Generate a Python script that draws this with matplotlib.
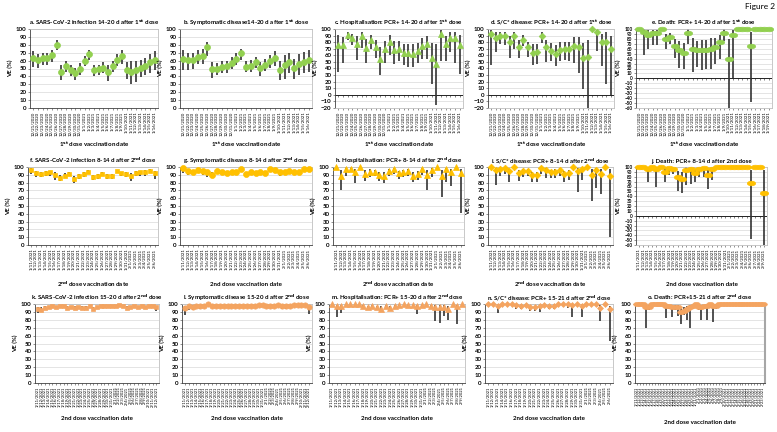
import matplotlib
matplotlib.use('Agg')
import matplotlib.pyplot as plt
import numpy as np
import pandas as pd
from matplotlib.path import Path
from matplotlib.transforms import Affine2D

plt.rcParams['font.family'] = ['Lato', 'DejaVu Sans']
plt.rcParams['mathtext.fontset'] = 'dejavusans'

W, H = 777, 432
fig = plt.figure(figsize=(W / 100, H / 100), dpi=100)

GREEN = '#92D050'
YELLOW = '#FFC000'
ORANGE = '#F4A460'

# ---------------- data ----------------
# Row 1 (after 1st dose)
ve_a = [63, 61, 63, 63, 67, 80, 46, 53, 48, 44, 50, 60, 68, 48, 49, 51, 45, 53, 61, 66, 48, 46, 48, 51, 53, 58, 61]
lo_a = [52, 51, 55, 55, 58, 73, 36, 45, 40, 36, 42, 53, 61, 41, 42, 44, 34, 46, 53, 56, 37, 30, 33, 39, 42, 44, 48]
hi_a = [72, 68, 70, 70, 74, 86, 54, 60, 54, 51, 57, 66, 73, 55, 55, 58, 54, 60, 68, 73, 58, 59, 59, 61, 63, 68, 72]

ve_b = [62, 61, 61, 65, 66, 77, 49, 50, 52, 53, 57, 62, 69, 52, 53, 58, 51, 55, 59, 63, 48, 54, 58, 51, 56, 58, 61]
lo_b = [48, 48, 50, 56, 56, 66, 38, 42, 44, 44, 50, 55, 61, 45, 46, 51, 41, 47, 51, 53, 35, 37, 44, 37, 42, 44, 46]
hi_b = [73, 70, 69, 73, 75, 84, 58, 57, 59, 60, 64, 70, 75, 59, 61, 65, 58, 62, 67, 72, 60, 67, 70, 62, 68, 71, 73]

ve_c = [76, 75, 91, 87, 77, 89, 71, 83, 72, 55, 69, 81, 68, 70, 63, 63, 62, 66, 74, 77, 56, 47, 93, 77, 87, 87, 75]
lo_c = [35, 49, 84, 75, 53, 71, 49, 70, 56, 30, 48, 61, 47, 52, 45, 43, 42, 49, 54, 54, 16, -16, 52, 51, 65, 49, 31]
hi_c = [91, 88, 95, 93, 89, 95, 85, 91, 83, 73, 82, 91, 82, 82, 77, 77, 77, 79, 87, 90, 78, 77, 99, 90, 95, 96, 91]

ve_d = [92, 87, 90, 90, 80, 89, 72, 84, 72, 64, 65, 90, 72, 67, 62, 68, 70, 69, 74, 73, 56, 57, 100, 96, 80, 80, 69]
lo_d = [45, 65, 77, 76, 56, 70, 56, 74, 58, 45, 47, 79, 50, 52, 44, 51, 53, 51, 48, 33, 9, -20, 100, 67, 44, 17, 0]
hi_d = [99, 95, 96, 96, 90, 96, 83, 91, 81, 77, 77, 96, 84, 78, 75, 80, 81, 80, 88, 88, 79, 84, 100, 99, 93, 95, 90]

ve_e = [100, 93, 88, 91, 91, 100, 80, 83, 65, 58, 52, 91, 60, 57, 57, 58, 60, 63, 73, 91, 39, 87, 100, 100, 100, 65, 100, 100, 100, 100]
lo_e = [100, 48, 60, 68, 68, 100, 60, 70, 42, 21, 19, 70, 13, 23, 17, 20, 20, 30, 40, 75, -60, 0, 100, 100, 100, -48, 100, 100, 100, 100]
hi_e = [100, 100, 97, 97, 98, 100, 90, 91, 80, 75, 71, 100, 82, 75, 77, 78, 81, 82, 88, 100, 80, 98, 100, 100, 100, 93, 100, 100, 100, 100]

# Row 2 (8-14 d after 2nd dose)
ve_f = [96, 92, 91, 92, 93, 90, 86, 89, 91, 85, 88, 91, 94, 87, 88, 91, 88, 89, 95, 92, 91, 88, 92, 93, 93, 95, 92]
lo_f = [91, 87, 87, 89, 89, 83, 82, 86, 88, 80, 84, 87, 91, 83, 84, 88, 84, 85, 92, 88, 87, 82, 89, 89, 89, 92, 85]
hi_f = [99, 95, 94, 95, 95, 93, 90, 92, 93, 89, 91, 93, 96, 90, 91, 93, 91, 91, 96, 94, 94, 92, 95, 95, 96, 97, 95]

ve_g = [99, 95, 94, 96, 95, 94, 90, 95, 94, 92, 94, 93, 97, 91, 94, 92, 93, 92, 97, 96, 93, 94, 95, 94, 94, 97, 97]
lo_g = [92, 90, 91, 93, 90, 87, 86, 93, 91, 89, 91, 90, 95, 88, 91, 89, 90, 89, 95, 93, 89, 90, 93, 91, 91, 94, 93]
hi_g = [100, 97, 96, 98, 97, 96, 93, 97, 96, 94, 96, 95, 98, 93, 96, 94, 95, 94, 98, 98, 95, 96, 97, 96, 96, 98, 98]

ve_h = [100, 89, 98, 98, 93, 100, 91, 94, 93, 90, 88, 95, 97, 92, 93, 95, 89, 91, 97, 90, 96, 100, 88, 97, 94, 100, 92]
lo_h = [100, 70, 88, 93, 80, 100, 82, 87, 88, 82, 79, 88, 91, 85, 87, 88, 81, 83, 90, 70, 87, 100, 62, 81, 76, 100, 41]
hi_h = [100, 96, 100, 100, 97, 100, 96, 97, 96, 94, 93, 98, 99, 95, 96, 98, 93, 95, 99, 96, 99, 100, 96, 99, 98, 100, 98]

ve_i = [100, 96, 98, 99, 95, 100, 92, 95, 95, 90, 90, 99, 96, 93, 94, 96, 91, 92, 100, 95, 97, 100, 90, 96, 91, 100, 88]
lo_i = [100, 77, 88, 91, 81, 100, 82, 87, 89, 81, 81, 91, 86, 86, 86, 89, 81, 83, 100, 68, 83, 100, 57, 73, 65, 100, 10]
hi_i = [100, 99, 100, 100, 98, 100, 96, 98, 98, 94, 94, 100, 99, 96, 97, 99, 95, 96, 100, 99, 99, 100, 97, 99, 98, 100, 97]

ve_j = [100, 100, 96, 100, 95, 100, 89, 97, 96, 80, 76, 93, 95, 87, 96, 97, 84, 95, 100, 100, 100, 100, 100, 100, 100, 100, 68, 100, 100, 46]
lo_j = [100, 100, 70, 100, 60, 100, 70, 83, 85, 50, 47, 63, 65, 70, 80, 80, 55, 73, 100, 100, 100, 100, 100, 100, 100, 100, -47, 100, 100, -60]
hi_j = [100, 100, 100, 100, 100, 100, 97, 100, 100, 92, 90, 99, 100, 95, 100, 100, 93, 99, 100, 100, 100, 100, 100, 100, 100, 100, 93, 100, 100, 93]

# Row 3 (15-21 d after 2nd dose)
ve_k = [94, 93, 95, 96, 97, 96, 98, 97, 95, 96, 95, 96, 95, 95, 97, 94, 96, 98, 97, 97, 98, 98, 99, 97, 95, 96, 97, 96, 97, 96, 98, 97, 96]
lo_k = [88, 90, 93, 94, 95, 94, 96, 95, 93, 94, 93, 94, 93, 93, 95, 92, 94, 96, 95, 95, 96, 96, 97, 95, 92, 94, 95, 94, 95, 94, 96, 95, 91]
hi_k = [96, 96, 97, 98, 98, 98, 99, 98, 97, 98, 97, 97, 97, 97, 98, 96, 98, 99, 98, 98, 99, 99, 100, 98, 97, 98, 98, 98, 98, 98, 99, 98, 98]

ve_l = [95, 97, 96, 97, 97, 98, 100, 98, 98, 98, 98, 98, 98, 98, 98, 98, 98, 97, 98, 99, 99, 98, 98, 98, 99, 98, 98, 98, 99, 99, 99, 99, 96]
lo_l = [86, 93, 93, 94, 94, 96, 98, 96, 96, 96, 96, 96, 96, 96, 96, 96, 96, 95, 96, 97, 97, 96, 96, 96, 97, 94, 94, 96, 97, 97, 97, 96, 87]
hi_l = [97, 99, 99, 99, 99, 99, 100, 99, 99, 99, 99, 99, 99, 99, 99, 99, 99, 99, 99, 100, 100, 99, 99, 99, 100, 99, 99, 99, 100, 100, 100, 100, 98]

ve_m = [100, 97, 97, 100, 100, 100, 100, 97, 96, 98, 96, 94, 98, 95, 98, 99, 100, 99, 99, 97, 99, 100, 97, 96, 96, 96, 94, 100, 97, 100]
lo_m = [98, 83, 89, 98, 98, 98, 98, 94, 92, 95, 92, 90, 95, 91, 95, 96, 98, 96, 95, 87, 96, 98, 94, 78, 76, 85, 80, 98, 75, 98]
hi_m = [100, 99, 99, 100, 100, 100, 100, 99, 98, 99, 98, 97, 99, 98, 99, 100, 100, 100, 100, 99, 100, 100, 99, 99, 99, 99, 98, 100, 99, 100]

ve_n = [100, 100, 98, 100, 100, 100, 99, 98, 99, 96, 96, 98, 99, 98, 98, 100, 100, 100, 99, 100, 98, 100, 100, 100, 95, 100, 94]
lo_n = [99, 99, 88, 99, 99, 99, 94, 94, 96, 91, 91, 90, 96, 94, 94, 99, 99, 95, 83, 99, 83, 99, 99, 99, 78, 99, 53]
hi_n = [100, 100, 100, 100, 100, 100, 100, 100, 100, 98, 98, 100, 100, 100, 100, 100, 100, 100, 100, 100, 100, 100, 100, 100, 99, 100, 98]

ve_o = [100, 100, 100, 96, 96, 100, 100, 100, 100, 100, 98, 97, 96, 96, 96, 90, 91, 94, 96, 97, 100, 96, 96, 97, 97, 100, 97, 97,
        100, 100, 100, 100, 100, 100, 100, 100, 100, 100, 100, 100, 100, 100, 100, 100]
lo_o = [100, 100, 100, 70, 93, 100, 100, 100, 100, 100, 82, 94, 84, 93, 85, 75, 86, 80, 69, 94, 100, 93, 80, 94, 80, 100, 77, 94,
        100, 100, 100, 100, 100, 100, 100, 100, 100, 100, 100, 100, 100, 100, 100, 100]
hi_o = [100, 100, 100, 99, 99, 100, 100, 100, 100, 100, 100, 99, 99, 99, 99, 95, 96, 98, 99, 99, 100, 99, 99, 99, 99, 100, 99, 99,
        100, 100, 100, 100, 100, 100, 100, 100, 100, 100, 100, 100, 100, 100, 100, 100]

titles = {
    'a': r'a. SARS-CoV-2 infection 14-20 d after 1$^{\mathbf{st}}$ dose',
    'b': r'b. Symptomatic disease14-20 d after 1$^{\mathbf{st}}$ dose',
    'c': r'c. Hospitalisation: PCR+ 14-20 d after 1$^{\mathbf{st}}$ dose',
    'd': r'd. S/C* disease: PCR+ 14-20 d after 1$^{\mathbf{st}}$ dose',
    'e': r'e. Death: PCR+ 14-20 d after 1$^{\mathbf{st}}$ dose',
    'f': r'f. SARS-CoV-2 infection 8-14 d after 2$^{\mathbf{nd}}$ dose',
    'g': r'g. Symptomatic disease 8-14 d after 2$^{\mathbf{nd}}$ dose',
    'h': r'h. Hospitalisation: PCR+ 8-14 d after 2$^{\mathbf{nd}}$ dose',
    'i': r'i. S/C* disease: PCR+ 8-14 d after 2$^{\mathbf{nd}}$ dose',
    'j': 'j. Death: PCR+ 8-14 d after 2nd dose',
    'k': r'k. SARS-CoV-2 infection 15-20 d after 2$^{\mathbf{nd}}$ dose',
    'l': r'l. Symptomatic disease 15-20 d after 2$^{\mathbf{nd}}$ dose',
    'm': r'm. Hospitalisation: PCR+ 15-20 d after 2$^{\mathbf{nd}}$ dose',
    'n': r'n. S/C* disease: PCR+ 15-21 d after 2$^{\mathbf{nd}}$ dose',
    'o': r'o. Death: PCR+15-21 d after 2$^{\mathbf{nd}}$ dose',
}
XL1 = r'1$^{\mathbf{st}}$ dose vaccination date'
XL2s = r'2$^{\mathbf{nd}}$ dose vaccination date'
XL2 = '2nd dose vaccination date'


def dates(start, n):
    return [f"{d.month}/{d.day}/{d.year}" for d in pd.date_range(start, periods=n)]


ellipse = Path.unit_circle().transformed(Affine2D().scale(1.0, 0.55))


def panel(box, key, ve, lo, hi, labels, color, marker, ms, ylim, xlabel, xly, tfs=3.2):
    l, r, t, b = box
    ax = fig.add_axes([l / W, 1 - b / H, (r - l) / W, (b - t) / H])
    x = np.arange(len(ve))
    ax.vlines(x, lo, hi, color='#333333', lw=1.2, zorder=2)
    ax.plot(x, ve, ls='none', marker=marker, ms=ms, color=color, mec=color, mew=0.5, zorder=3, clip_on=False)
    ax.set_xlim(-0.7, len(ve) - 0.3)
    ax.set_ylim(*ylim)
    ax.set_yticks(np.arange(ylim[0], ylim[1] + 1, 10))
    ax.yaxis.grid(True, color='#d9d9d9', lw=0.5)
    ax.set_axisbelow(True)
    ax.set_xticks(x)
    ax.set_xticklabels(labels, rotation=90, fontsize=tfs)
    yfs = 4.4 if ylim[0] >= -20 else 3.3
    for lab in ax.get_yticklabels():
        lab.set_fontsize(yfs)
        lab.set_fontweight('bold')
    ax.tick_params(axis='both', length=1.5, width=0.4, pad=1, color='#404040')
    for s in ax.spines.values():
        s.set_color('#bfbfbf')
        s.set_linewidth(0.6)
    ax.spines['left'].set_color('#404040')
    if ylim[0] == 0:
        ax.spines['bottom'].set_color('#404040')
    else:
        ax.axhline(0, color='#222222', lw=0.7, zorder=1)
        tl = (ylim[1] - ylim[0]) * 0.025
        ax.vlines(x, -tl, 0, color='#222222', lw=0.4, zorder=1)
    ax.set_title(titles[key], fontsize=4.4, fontweight='bold', pad=3)
    ax.set_ylabel('VE (%)', fontsize=4.4, fontweight='bold', labelpad=2)
    fig.text((l + r) / 2 / W, 1 - xly / H, xlabel, ha='center', va='center',
             fontsize=4.4, fontweight='bold')
    return ax


d1 = dates('2020-12-21', 27)
d1e = dates('2020-12-21', 30)
d2 = dates('2021-01-11', 27)
d2j = dates('2021-01-11', 30)
d3k = dates('2021-01-11', 33)
d3m = dates('2021-01-11', 30)
d3n = dates('2021-01-11', 27)
d3o = dates('2021-01-11', 44)

R1 = (29, 108)
R2 = (167, 245)
R3 = (304, 383)

panel((30, 158) + R1, 'a', ve_a, lo_a, hi_a, d1, GREEN, 'o', 4.3, (0, 100), XL1, 145)
panel((180, 312) + R1, 'b', ve_b, lo_b, hi_b, d1, GREEN, 'o', 4.3, (0, 100), XL1, 145)
panel((335, 463) + R1, 'c', ve_c, lo_c, hi_c, d1, GREEN, '^', 4.5, (-20, 100), XL1, 145)
panel((488, 614) + R1, 'd', ve_d, lo_d, hi_d, d1, GREEN, 'D', 3.4, (-20, 100), XL1, 145)
panel((636, 772) + R1, 'e', ve_e, lo_e, hi_e, d1e, GREEN, ellipse, 6.0, (-60, 100), XL1, 145)

panel((28, 158) + R2, 'f', ve_f, lo_f, hi_f, d2, YELLOW, 's', 3.5, (0, 100), XL2s, 284)
panel((180, 312) + R2, 'g', ve_g, lo_g, hi_g, d2, YELLOW, 'o', 4.3, (0, 100), XL2, 284)
panel((333, 464) + R2, 'h', ve_h, lo_h, hi_h, d2, YELLOW, '^', 4.5, (0, 100), XL2s, 284)
panel((488, 613) + R2, 'i', ve_i, lo_i, hi_i, d2, YELLOW, 'D', 3.4, (0, 100), XL2s, 284)
panel((636, 767) + R2, 'j', ve_j, lo_j, hi_j, d2j, YELLOW, ellipse, 6.0, (-60, 100), XL2, 284)

panel((35, 159) + R3, 'k', ve_k, lo_k, hi_k, d3k, ORANGE, 's', 3.2, (0, 100), XL2, 419, tfs=3.0)
panel((182, 312) + R3, 'l', ve_l, lo_l, hi_l, d3k, ORANGE, 'o', 3.8, (0, 100), XL2, 418, tfs=3.0)
panel((329, 465) + R3, 'm', ve_m, lo_m, hi_m, d3m, ORANGE, '^', 4.0, (0, 100), XL2, 418, tfs=3.0)
panel((485, 613) + R3, 'n', ve_n, lo_n, hi_n, d3n, ORANGE, 'D', 3.0, (0, 100), XL2, 418, tfs=3.0)
ax_o = panel((635, 765) + R3, 'o', ve_o, lo_o, hi_o, d3o, ORANGE, ellipse, 5.5, (0, 100), XL2, 422, tfs=2.8)
ax_o.spines['right'].set_color('#a6a6a6')
ax_o.spines['right'].set_linewidth(1.5)

fig.text(775 / W, 1 - 6 / H, 'Figure 2', ha='right', va='center', fontsize=6)

fig.savefig('out.png', dpi=100)
